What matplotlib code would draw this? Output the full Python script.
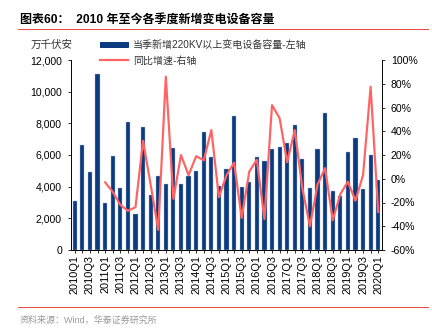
import matplotlib
matplotlib.use("Agg")
import matplotlib.pyplot as plt
from matplotlib.lines import Line2D
from matplotlib.patches import Patch
from matplotlib.ticker import FuncFormatter

plt.rcParams['font.family'] = ['Liberation Sans', 'Noto Sans CJK SC']

quarters = [f"{y}Q{q}" for y in range(2010, 2020) for q in range(1, 5)] + ["2020Q1"]

capacity = [3100, 6650, 4950, 11100, 3000, 5950, 3900, 8100, 2300, 7800,
            3500, 4650, 4200, 6450, 4150, 4700, 5000, 7450, 5900, 4050,
            5100, 8450, 4000, 4300, 5900, 5600, 6400, 6500, 6750, 7900,
            5750, 3900, 6350, 8650, 3750, 3400, 6200, 7100, 3850, 6000,
            4400]

yoy = [None, None, None, None, -3, -11, -22, -27, -24, 32,
       -5, -43, 86, -17, 20, 3, 19, 15.5, 41, -15.5,
       3, 13.5, -33, 6, 16, -34, 62, 51, 14, 41,
       -8, -40, -5, 9, -35, -13, -2.5, -18.5, 3, 77.5,
       -28]

W, H = 432, 328
fig = plt.figure(figsize=(W / 72, H / 72), dpi=72)
ax = fig.add_axes([71 / W, (H - 250) / H, (382 - 71) / W, 190 / H])
ax2 = ax.twinx()

bar_color = '#0B3A7E'
line_color = '#FF6464'

x = list(range(len(quarters)))
ax.bar(x, capacity, width=0.55, color=bar_color, edgecolor='#A9BCD8', linewidth=0.4, zorder=2)
xs = [i for i, v in zip(x, yoy) if v is not None]
ys = [v for v in yoy if v is not None]
ax2.plot(xs, ys, color=line_color, linewidth=2.2, zorder=3)

ax.set_xlim(-0.5, len(quarters) - 0.5)
ax.set_ylim(0, 12000)
ax.set_yticks(range(0, 12001, 2000))
ax.yaxis.set_major_formatter(FuncFormatter(lambda v, p: f"{int(v):,}"))
ax2.set_ylim(-60, 100)
ax2.set_yticks(range(-60, 101, 20))
ax2.yaxis.set_major_formatter(FuncFormatter(lambda v, p: f"{int(v)}%"))

ax.set_xticks(x)
ax.set_xticklabels([q if i % 2 == 0 else "" for i, q in enumerate(quarters)], rotation=90)

for a in (ax, ax2):
    a.spines['top'].set_visible(False)
    a.tick_params(direction='out', length=3, width=0.8, labelsize=10.5, colors='black')
ax.tick_params(axis='x', length=3, pad=2, labelsize=11)
ax.tick_params(axis='y', pad=6)
ax2.tick_params(axis='y', pad=6)

ax.text(52 / W, (H - 45) / H, "万千伏安", transform=fig.transFigure, ha='center', va='center',
        fontsize=10.5, color='#333333')

handles = [Patch(facecolor=bar_color, edgecolor=bar_color),
           Line2D([], [], color=line_color, linewidth=2.2)]
labels = ["当季新增220KV以上变电设备容量-左轴", "同比增速-右轴"]
leg = fig.legend(handles, labels, loc='upper left', bbox_to_anchor=(96 / W, 1 - 36 / H),
                 frameon=False, fontsize=10, handlelength=2.8, handleheight=0.5,
                 labelspacing=0.55, handletextpad=0.5, borderaxespad=0)
for t in leg.get_texts():
    t.set_color('#333333')

fig.text(20 / W, 1 - 20 / H, "图表60：  2010 年至今各季度新增变电设备容量", fontsize=12,
         fontweight='bold', ha='left', va='center')
fig.add_artist(Line2D([18 / W, 428 / W], [1 - 29 / H, 1 - 29 / H], color='#E8392F', linewidth=0.9))
fig.add_artist(Line2D([18 / W, 428 / W], [1 - 307 / H, 1 - 307 / H], color='#E8392F', linewidth=0.9))
fig.text(20 / W, 1 - 320 / H, "资料来源：Wind，华泰证券研究所", fontsize=9, color='#999999',
         ha='left', va='center')

fig.savefig("out.png", dpi=72)
